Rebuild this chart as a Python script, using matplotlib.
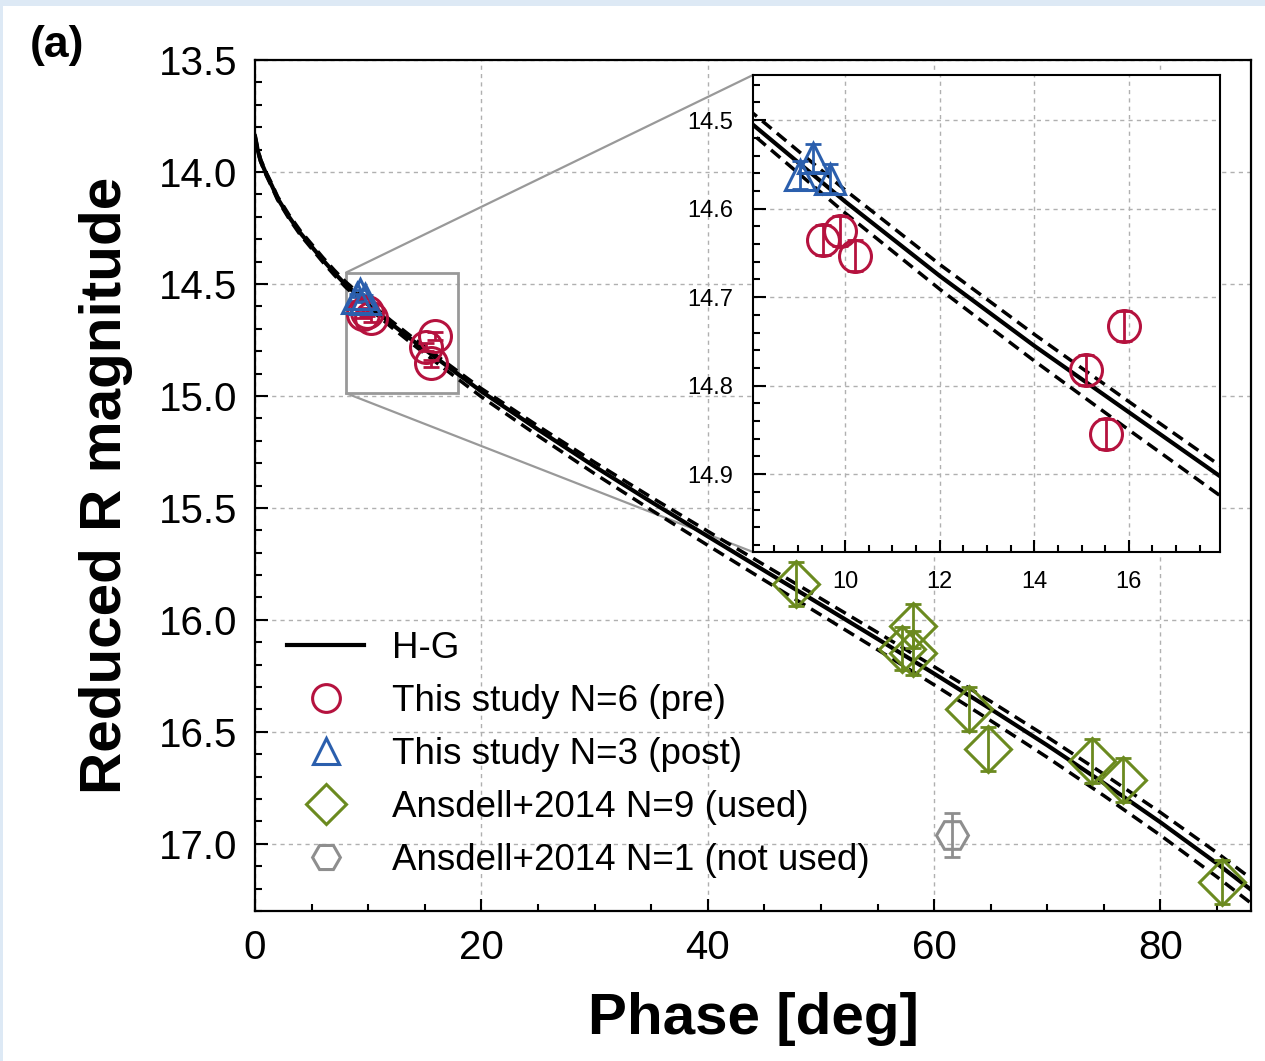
import matplotlib
matplotlib.use("Agg")
import matplotlib.pyplot as plt
from matplotlib.patches import Rectangle, ConnectionPatch
from matplotlib.ticker import MultipleLocator

plt.rcParams['font.family'] = ['Liberation Sans', 'DejaVu Sans']

# H-G model curve (solid) and its bounds (dashed)
hg_phase = [0, 0.25, 0.5, 1, 1.5, 2, 3, 4, 5, 6, 7, 8, 10, 12, 14, 16, 18, 20,
            25, 30, 35, 40, 45, 50, 55, 60, 65, 70, 75, 80, 85, 88]
hg_mag = [13.84, 13.905, 13.95, 14.01, 14.062, 14.118, 14.2, 14.272, 14.333,
          14.393, 14.45, 14.503, 14.592, 14.676, 14.755, 14.83, 14.905, 14.98,
          15.15, 15.315, 15.473, 15.627, 15.78, 15.932, 16.085, 16.24, 16.398,
          16.56, 16.729, 16.904, 17.088, 17.205]
hg_upper = [13.836, 13.900, 13.944, 14.003, 14.054, 14.110, 14.191, 14.262,
            14.322, 14.382, 14.438, 14.490, 14.579, 14.663, 14.742, 14.818,
            14.893, 14.967, 15.134, 15.296, 15.452, 15.604, 15.755, 15.905,
            16.056, 16.209, 16.364, 16.523, 16.689, 16.860, 17.040, 17.155]
hg_lower = [13.844, 13.910, 13.955, 14.016, 14.069, 14.125, 14.208, 14.281,
            14.342, 14.403, 14.460, 14.514, 14.605, 14.691, 14.772, 14.850,
            14.927, 15.004, 15.178, 15.347, 15.509, 15.667, 15.823, 15.978,
            16.133, 16.290, 16.450, 16.614, 16.785, 16.962, 17.148, 17.265]

# This study, pre-perihelion
pre_phase = [9.54, 9.89, 10.21, 15.09, 15.51, 15.89]
pre_mag = [14.635, 14.625, 14.653, 14.782, 14.855, 14.733]
pre_err = [0.017, 0.017, 0.017, 0.017, 0.017, 0.017]

# This study, post-perihelion
post_phase = [9.04, 9.32, 9.68]
post_mag = [14.562, 14.543, 14.566]
post_err = [0.016, 0.016, 0.016]

# Ansdell+2014 (used)
used_phase = [47.77, 57.13, 58.16, 58.16, 63.1, 64.78, 73.97, 76.65, 85.48]
used_mag = [15.839, 16.128, 16.026, 16.146, 16.398, 16.577, 16.632, 16.716, 17.169]
used_err = [0.098, 0.098, 0.098, 0.098, 0.098, 0.098, 0.098, 0.098, 0.098]

# Ansdell+2014 (not used)
nu_phase = [61.54]
nu_mag = [16.96]
nu_err = [0.099]

c_pre = '#b5123e'
c_post = '#2b5fad'
c_used = '#6b8a1f'
c_nu = '#8e8e8e'

fig = plt.figure(figsize=(12.65, 10.61), dpi=100, facecolor='#dde9f5')
fig.patches.append(Rectangle((3 / 1265, 0), 1, 1 - 6 / 1061, transform=fig.transFigure,
                             facecolor='white', edgecolor='none', zorder=-10))

ax = fig.add_axes([255 / 1265, 1 - 911 / 1061, 996 / 1265, 851 / 1061])
axin = fig.add_axes([753 / 1265, 1 - 552 / 1061, 467 / 1265, 477 / 1061])


def draw(a, label=True):
    a.plot(hg_phase, hg_mag, color='black', lw=3, label='H-G' if label else None, zorder=3)
    a.plot(hg_phase, hg_upper, color='black', lw=2.5, ls=(0, (3.5, 2)), zorder=3)
    a.plot(hg_phase, hg_lower, color='black', lw=2.5, ls=(0, (3.5, 2)), zorder=3)
    sets = [
        (pre_phase, pre_mag, pre_err, 'o', c_pre, 23, 'This study N=6 (pre)'),
        (post_phase, post_mag, post_err, '^', c_post, 21, 'This study N=3 (post)'),
        (used_phase, used_mag, used_err, 'D', c_used, 23.5, 'Ansdell+2014 N=9 (used)'),
        (nu_phase, nu_mag, nu_err, 'H', c_nu, 23, 'Ansdell+2014 N=1 (not used)'),
    ]
    for px, py, pe, mk, col, ms, lab in sets:
        a.errorbar(px, py, yerr=pe, fmt='none', ecolor=col, elinewidth=2,
                   capsize=6, capthick=2, zorder=4)
        a.plot(px, py, ls='none', marker=mk, ms=ms, mfc='none', mec=col,
               mew=2.2, label=lab if label else None, zorder=5)


draw(ax)
ax.set_xlim(0, 88)
ax.set_ylim(17.3, 13.5)
ax.xaxis.set_major_locator(MultipleLocator(20))
ax.xaxis.set_minor_locator(MultipleLocator(5))
ax.yaxis.set_major_locator(MultipleLocator(0.5))
ax.yaxis.set_minor_locator(MultipleLocator(0.1))
ax.tick_params(which='both', direction='in', top=False, right=False, labelsize=29, width=1.5)
ax.tick_params(which='major', length=9, pad=13)
ax.tick_params(which='minor', length=5)
ax.grid(True, which='major', color='#b0b0b0', ls=(0, (3, 3)), lw=1)
for s in ax.spines.values():
    s.set_linewidth(1.6)
ax.set_xlabel('Phase [deg]', fontsize=42, fontweight='bold', labelpad=18)
ax.set_ylabel('Reduced R magnitude', fontsize=42, fontweight='bold', labelpad=18)

leg = ax.legend(loc='upper left', bbox_to_anchor=(0.032, 0.329), frameon=False,
                fontsize=26.5, handlelength=2.1, handletextpad=0.75, labelspacing=0.49,
                borderpad=0, borderaxespad=0, markerscale=0.87)

# inset
draw(axin, label=False)
axin.set_xlim(8.05, 17.93)
axin.set_ylim(14.988, 14.449)
axin.xaxis.set_major_locator(MultipleLocator(2))
axin.xaxis.set_minor_locator(MultipleLocator(0.5))
axin.yaxis.set_major_locator(MultipleLocator(0.1))
axin.yaxis.set_minor_locator(MultipleLocator(0.02))
axin.tick_params(which='both', direction='in', top=False, right=False, labelsize=17, width=1.5)
axin.tick_params(which='major', length=9, pad=14)
axin.tick_params(which='minor', length=5)
axin.grid(True, which='major', color='#b0b0b0', ls=(0, (3, 3)), lw=1)
for s in axin.spines.values():
    s.set_linewidth(1.5)

# zoom rectangle and connectors
x0, x1 = axin.get_xlim()
y1, y0 = axin.get_ylim()
ax.add_patch(Rectangle((x0, y0), x1 - x0, y1 - y0, fill=False, edgecolor='#999999', lw=2, zorder=2))
for ya, yb in [(y0, 1), (y1, 0)]:
    cp = ConnectionPatch(xyA=(x0, ya), coordsA=ax.transData, xyB=(0, yb), coordsB=axin.transAxes,
                         color='#999999', lw=1.6)
    ax.add_artist(cp)

fig.text(30 / 1265, 1 - 46 / 1061, '(a)', fontsize=32, fontweight='bold', va='center', ha='left')

fig.savefig('out.png', dpi=100, facecolor=fig.get_facecolor())
